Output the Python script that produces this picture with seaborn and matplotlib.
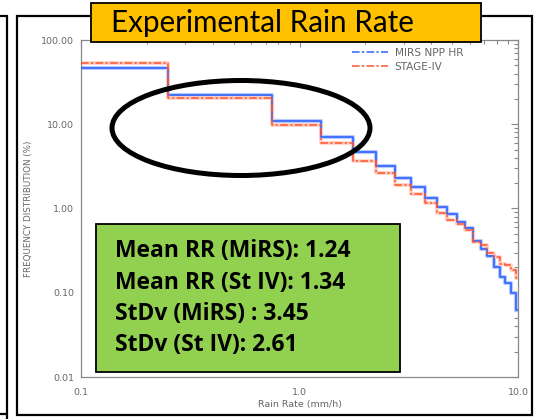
import numpy as np
import pandas as pd
import matplotlib
matplotlib.use("Agg")
import matplotlib.pyplot as plt
import seaborn as sns
from matplotlib.patches import Rectangle, Ellipse
from matplotlib.lines import Line2D
from matplotlib.ticker import FixedLocator, FixedFormatter, LogLocator, NullFormatter

# ---------------- data ----------------
bin_edges = [0.1, 0.25, 0.75, 1.25, 1.75, 2.25, 2.75, 3.25, 3.75, 4.25, 4.75,
             5.25, 5.75, 6.25, 6.75, 7.25, 7.75, 8.25, 8.75, 9.25, 9.75, 10.0]
mirs_freq = [46.5, 22.2, 10.9, 7.0, 4.7, 3.2, 2.3, 1.78, 1.32, 1.05, 0.87,
             0.70, 0.58, 0.41, 0.33, 0.27, 0.20, 0.155, 0.13, 0.098, 0.062]
stage4_freq = [52.9, 20.3, 9.8, 6.0, 3.69, 2.61, 1.90, 1.48, 1.17, 0.89, 0.74,
               0.65, 0.55, 0.40, 0.367, 0.298, 0.267, 0.217, 0.214, 0.185, 0.148]
series_names = ["MIRS NPP HR", "STAGE-IV"]
x_ticks = [0.1, 1.0, 10.0]
x_tick_labels = ["0.1", "1.0", "10.0"]
y_ticks = [0.01, 0.1, 1.0, 10.0, 100.0]
y_tick_labels = ["0.01", "0.10", "1.00", "10.00", "100.00"]
stats_lines = ["Mean RR (MiRS): 1.24", "Mean RR (St IV): 1.34",
               "StDv (MiRS) : 3.45", "StDv (St IV): 2.61"]
title_text = "Experimental Rain Rate"
x_label = "Rain Rate (mm/h)"
y_label = "FREQUENCY DISTRIBUTION (%)"

df = pd.DataFrame({
    "rain": bin_edges + bin_edges,
    "freq": mirs_freq + [mirs_freq[-1]] + stage4_freq + [stage4_freq[-1]],
    "series": [series_names[0]] * len(bin_edges) + [series_names[1]] * len(bin_edges),
})

# ---------------- style ----------------
sns.set_theme(style="white")
plt.rcParams["font.family"] = ["DejaVu Sans"]

W, H = 534, 419
fig = plt.figure(figsize=(W / 100, H / 100), dpi=100)
fig.patch.set_facecolor("white")

def fx(px):
    return px / W

def fy(py):
    return 1 - py / H

ax_l, ax_r, ax_t, ax_b = 81, 518, 40, 377
ax = fig.add_axes([fx(ax_l), fy(ax_b), fx(ax_r - ax_l), (ax_b - ax_t) / H])
ax.set_facecolor("white")

BLUE = "#2f62ff"
BLUE_HALO = "#b8cbff"
ORANGE = "#ff5430"
ORANGE_HALO = "#ffcdbd"
GRAY = "#666666"

d_m = df[df.series == series_names[0]]
d_s = df[df.series == series_names[1]]

sns.lineplot(data=d_m, x="rain", y="freq", drawstyle="steps-post", color=BLUE_HALO,
             lw=3.0, ax=ax, legend=False, estimator=None, zorder=2)
sns.lineplot(data=d_s, x="rain", y="freq", drawstyle="steps-post", color=ORANGE_HALO,
             lw=2.6, ax=ax, legend=False, estimator=None, zorder=2)
sns.lineplot(data=d_m, x="rain", y="freq", drawstyle="steps-post", color=BLUE,
             lw=1.2, ax=ax, legend=False, estimator=None, zorder=3)
sns.lineplot(data=d_s, x="rain", y="freq", drawstyle="steps-post", color=ORANGE,
             lw=1.1, ax=ax, legend=False, estimator=None, zorder=4,
             linestyle=(0, (5, 1.5, 1.5, 1.5)))

ax.set_xscale("log")
ax.set_yscale("log")
ax.set_xlim(0.1, 10.0)
ax.set_ylim(0.01, 100.0)
ax.xaxis.set_major_locator(FixedLocator(x_ticks))
ax.xaxis.set_major_formatter(FixedFormatter(x_tick_labels))
ax.yaxis.set_major_locator(FixedLocator(y_ticks))
ax.yaxis.set_major_formatter(FixedFormatter(y_tick_labels))
ax.xaxis.set_minor_locator(LogLocator(base=10, subs=np.arange(2, 10)))
ax.yaxis.set_minor_locator(LogLocator(base=10, subs=np.arange(2, 10)))
ax.xaxis.set_minor_formatter(NullFormatter())
ax.yaxis.set_minor_formatter(NullFormatter())
ax.tick_params(which="both", direction="in", top=True, right=True,
               color="#888888", width=0.8, labelsize=6.8, labelcolor=GRAY)
ax.tick_params(which="major", length=5)
ax.tick_params(axis="x", which="major", pad=8)
ax.tick_params(axis="y", which="major", pad=5)
ax.tick_params(which="minor", length=3)
for s in ax.spines.values():
    s.set_color("#888888")
    s.set_linewidth(0.9)
ax.set_xlabel(x_label, fontsize=6.8, color=GRAY, labelpad=2)
ax.set_ylabel(y_label, fontsize=6.3, color=GRAY, labelpad=6)

handles = [Line2D([], [], color=BLUE, lw=1.1, linestyle=(0, (5, 1.5, 1.5, 1.5))),
           Line2D([], [], color=ORANGE, lw=1.1, linestyle=(0, (5, 1.5, 1.5, 1.5)))]
ax.legend(handles, series_names, loc="upper left",
          bbox_to_anchor=(fx(352), fy(48)), bbox_transform=fig.transFigure,
          frameon=False, fontsize=7.6, labelcolor=GRAY, borderpad=0,
          borderaxespad=0, handlelength=3.4, handletextpad=0.65, labelspacing=0.35)

# ---------------- overlays ----------------
fig.add_artist(Rectangle((fx(17), fy(415)), fx(532 - 17), (415 - 16) / H,
                         transform=fig.transFigure, fill=False, ec="black", lw=1.6,
                         zorder=10))
fig.add_artist(Line2D([fx(7), fx(7)], [fy(16), fy(419)], transform=fig.transFigure,
                      color="black", lw=1.6, zorder=10))
fig.add_artist(Line2D([0, fx(7)], [fy(16), fy(16)], transform=fig.transFigure,
                      color="black", lw=1.6, zorder=10))
fig.add_artist(Line2D([0, fx(7)], [fy(414), fy(414)], transform=fig.transFigure,
                      color="black", lw=1.6, zorder=10))

fig.add_artist(Ellipse((fx(241), fy(128)), 258 / W, 95 / H, transform=fig.transFigure,
                       fill=False, ec="black", lw=3.6, zorder=11))

fig.add_artist(Rectangle((fx(96), fy(372)), fx(400 - 96), (372 - 224) / H,
                         transform=fig.transFigure, fc="#92d050", ec="black", lw=1.3,
                         zorder=12))
for i, line in enumerate(stats_lines):
    fig.text(fx(115), fy(251 + i * 31.5), line, transform=fig.transFigure,
             fontsize=16.5, fontweight="bold", family=["Open Sans", "DejaVu Sans"],
             color="black", va="center", ha="left", zorder=13)

fig.add_artist(Rectangle((fx(91), fy(42)), fx(481 - 91), (42 - 3) / H,
                         transform=fig.transFigure, fc="#ffc000", ec="black", lw=1.3,
                         zorder=12))
fig.text(fx(111), fy(23), title_text, transform=fig.transFigure, fontsize=21.3,
         family=["Lato", "DejaVu Sans"], color="black", va="center", ha="left",
         zorder=13)

fig.savefig("out.png", dpi=100)
